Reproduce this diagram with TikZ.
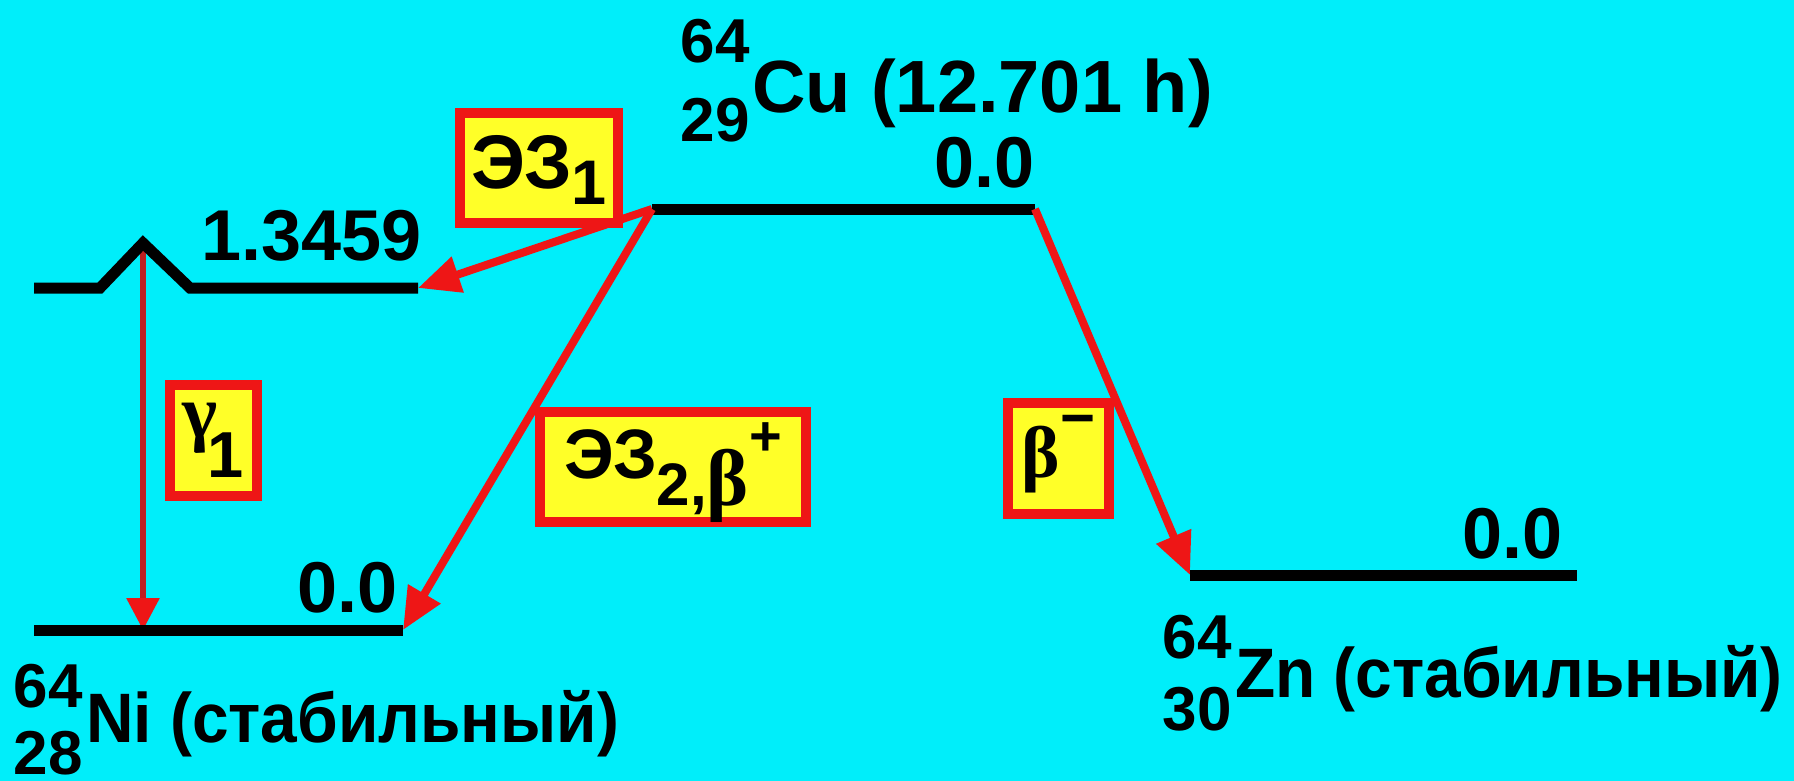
\documentclass[tikz,border=0pt]{standalone}
\usepackage{fontspec}
\usepackage{graphicx}
\setmainfont{Liberation Sans}
\newfontfamily\grk{Liberation Serif}
\usetikzlibrary{arrows.meta}
\definecolor{bg}{RGB}{0,238,250}
\definecolor{rd}{RGB}{238,22,22}
\definecolor{yl}{RGB}{255,255,40}
\definecolor{gred}{RGB}{190,32,32}
\newcommand{\fs}[1]{\fontsize{#1}{#1}\selectfont}
\begin{document}
\begin{tikzpicture}[x=1pt,y=-1pt,
  lvl/.style={line width=11pt},
  decay/.style={draw=rd, line width=8pt, -{Triangle[length=42pt,width=36pt]}},
  gam/.style={draw=gred, line width=6pt, -{Triangle[length=32pt,width=32pt,color=rd]}},
  lbox/.style={draw=rd, fill=yl, line width=10pt, inner sep=0pt, font=\bfseries},
  lbl/.style={font=\fs{72}\bfseries, inner sep=0pt},
  nuc/.style={font=\fs{70}\bfseries, inner sep=0pt},
  idx/.style={font=\fs{62}\bfseries, inner sep=0pt, text depth=0pt}]
\fill[bg] (0,0) rectangle (1794,781);
\useasboundingbox (0,0) rectangle (1794,781);
% level coordinates
\coordinate (exA) at (34,288);
\coordinate (exB) at (100,288);
\coordinate (peak) at (143,243);
\coordinate (exC) at (190,288);
\coordinate (exD) at (418,288);
\coordinate (niA) at (34,630);
\coordinate (niB) at (403,630);
\coordinate (niG) at (143,630);
\coordinate (cuA) at (652,209);
\coordinate (cuB) at (1035,209);
\coordinate (znA) at (1190,575);
\coordinate (znB) at (1577,575);
% gamma transition
\draw[gam] (peak) -- (niG);
% levels
\draw[lvl] (exA) -- (exB) -- (peak) -- (exC) -- (exD);
\draw[lvl] (niA) -- (niB);
\draw[lvl] (cuA) -- (cuB);
\draw[lvl] (znA) -- (znB);
% decays
\draw[decay] (cuA) -- (exD);
\draw[decay] (cuA) -- (niB);
\draw[decay] (cuB) -- (znA);
% level energies
\node[lbl, anchor=base east] (exE) at (422,260) {1.3459};
\node[lbl, anchor=base east] (cuE) at (1035,187) {0.0};
\node[lbl, anchor=base east] (niE) at (398,612) {0.0};
\node[lbl, anchor=base east] (znE) at (1563,558) {0.0};
% nuclide labels
\node[lbl, font=\fs{74}\bfseries, anchor=base west] (cuN) at (752,113) {Cu (12.701 h)};
\node[idx, anchor=base east] (cuM) at (750,63) {64};
\node[idx, anchor=base east] (cuZ) at (750,142) {29};
\node[nuc, anchor=base west] (niN) at (86,742) {\scalebox{0.94}[1]{Ni (стабильный)}};
\node[idx, anchor=base east] (niM) at (83,707) {64};
\node[idx, anchor=base east] (niZ) at (83,774) {28};
\node[nuc, anchor=base west] (znN) at (1235,697) {\scalebox{0.94}[1]{Zn (стабильный)}};
\node[idx, anchor=base east] (znM) at (1232,658) {64};
\node[idx, anchor=base east] (znZ) at (1232,730) {30};
% transition labels
\node[lbox, minimum width=158pt, minimum height=110pt, text height=40pt, text depth=0pt] (ec1) at (539,168)
  {\fs{76}ЭЗ\raisebox{-17pt}{\fs{63}1}};
\node[lbox, minimum width=87pt, minimum height=111pt, text height=0pt, text depth=7pt] (g1) at (213.5,440.5)
  {{\grk\fs{75}γ}\kern-10pt\raisebox{-40pt}{\fs{65}1}};
\node[lbox, minimum width=266pt, minimum height=110pt, text height=22pt, text depth=0pt] (ec2) at (673,467)
  {\fs{70}ЭЗ\raisebox{-27pt}{\fs{60}2,{\grk\fs{80}β}}\raisebox{23pt}{\fs{56}+}};
\node[lbox, minimum width=101pt, minimum height=111pt, text height=37pt, text depth=0pt] (bm) at (1058.5,458.5)
  {{\grk\fs{73}β}\raisebox{39pt}{\fs{60}−}};
\end{tikzpicture}
\end{document}
